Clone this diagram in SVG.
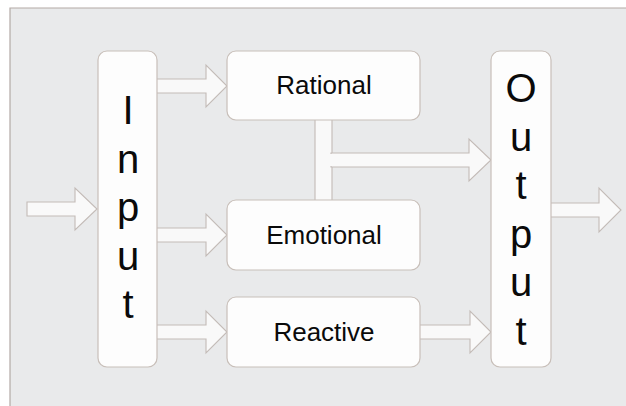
<svg xmlns="http://www.w3.org/2000/svg" width="626" height="406" viewBox="0 0 626 406">
  <style>
    .edge { fill: none; stroke: #b3aaa6; stroke-width: 1.2; }
    .box { fill: #fdfdfd; stroke: #c8bfb9; stroke-width: 1.2; }
    .arrow { fill: #f9f9f9; stroke: #c3bbb7; stroke-width: 1.1; stroke-linejoin: miter; }
    .label { font-family: "Liberation Sans", Arial, sans-serif; font-size: 26px; fill: #0a0a0a; text-anchor: middle; }
    .tall { font-family: "Liberation Sans", Arial, sans-serif; font-size: 40px; fill: #0a0a0a; text-anchor: middle; }
  </style>

  <!-- background panel: bordered on the top and left only -->
  <rect x="0" y="0" width="626" height="406" fill="#ffffff"/>
  <rect x="10" y="8" width="616" height="398" fill="#e9eaeb"/>
  <polyline class="edge" points="10,406 10,8 626,8"/>

  <!-- connectors -->
  <g id="connectors">
    <path class="arrow" d="M27,202 H75 V188 L97,209 L75,230 V216 H27 Z"/>
    <path class="arrow" d="M155,79 H206 V65 L227,86 L206,107 V93 H155 Z"/>
    <path class="arrow" d="M155,228 H206 V214 L227,235 L206,256 V242 H155 Z"/>
    <path class="arrow" d="M155,325 H206 V311 L227,332 L206,353 V339 H155 Z"/>
    <rect class="arrow" x="315" y="118" width="17" height="84"/>
    <path class="arrow" d="M331,153 H469 V139 L491,160 L469,181 V167 H331 Z"/>
    <rect x="316" y="154" width="16" height="12" fill="#f9f9f9"/>
    <path class="arrow" d="M418,325 H470 V311 L491,332 L470,353 V339 H418 Z"/>
    <path class="arrow" d="M548,203 H599 V188 L621,210 L599,232 V217 H548 Z"/>
  </g>

  <!-- nodes -->
  <g id="input">
    <rect class="box" x="98" y="51" width="59" height="316" rx="9"/>
    <text class="tall" x="128" y="124">I</text>
    <text class="tall" x="128" y="172.5">n</text>
    <text class="tall" x="128" y="221">p</text>
    <text class="tall" x="128" y="269.5">u</text>
    <text class="tall" x="128" y="318">t</text>
  </g>

  <g id="rational">
    <rect class="box" x="227" y="51" width="193" height="69" rx="9"/>
    <text class="label" x="324" y="94">Rational</text>
  </g>

  <g id="emotional">
    <rect class="box" x="227" y="200" width="193" height="70" rx="9"/>
    <text class="label" x="324" y="244">Emotional</text>
  </g>

  <g id="reactive">
    <rect class="box" x="227" y="297" width="193" height="70" rx="9"/>
    <text class="label" x="324" y="341">Reactive</text>
  </g>

  <g id="output">
    <rect class="box" x="491" y="51" width="60" height="316" rx="9"/>
    <text class="tall" x="521" y="102">O</text>
    <text class="tall" x="521" y="150.5">u</text>
    <text class="tall" x="521" y="199">t</text>
    <text class="tall" x="521" y="247.5">p</text>
    <text class="tall" x="521" y="296">u</text>
    <text class="tall" x="521" y="344.5">t</text>
  </g>
</svg>
